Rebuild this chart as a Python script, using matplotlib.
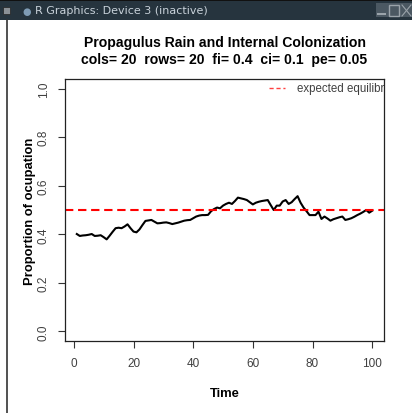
import numpy as np
import matplotlib
matplotlib.use("Agg")
import matplotlib.pyplot as plt
from matplotlib.patches import Rectangle
from matplotlib.lines import Line2D

plt.rcParams['font.family'] = ['Liberation Sans', 'DejaVu Sans']
plt.rcParams['lines.scale_dashes'] = False

# ---- data ----
time = list(range(1, 101))
occupation = [
    0.401, 0.393, 0.395, 0.396, 0.398, 0.401, 0.393, 0.394, 0.396, 0.388,
    0.379, 0.394, 0.410, 0.425, 0.427, 0.425, 0.432, 0.441, 0.425, 0.411,
    0.408, 0.420, 0.438, 0.455, 0.457, 0.459, 0.452, 0.445, 0.446, 0.448,
    0.449, 0.446, 0.442, 0.445, 0.448, 0.452, 0.456, 0.458, 0.459, 0.466,
    0.473, 0.477, 0.479, 0.479, 0.480, 0.495, 0.504, 0.510, 0.507, 0.518,
    0.525, 0.530, 0.525, 0.537, 0.551, 0.548, 0.545, 0.541, 0.532, 0.523,
    0.530, 0.534, 0.537, 0.539, 0.541, 0.520, 0.500, 0.518, 0.518, 0.535,
    0.541, 0.525, 0.532, 0.545, 0.557, 0.530, 0.510, 0.495, 0.479, 0.479,
    0.479, 0.493, 0.463, 0.473, 0.465, 0.456, 0.462, 0.466, 0.470, 0.473,
    0.459, 0.462, 0.466, 0.472, 0.479, 0.485, 0.492, 0.500, 0.489, 0.497,
]
equilibrium = 0.5
x_ticks = [0, 20, 40, 60, 80, 100]
y_ticks = [0.0, 0.2, 0.4, 0.6, 0.8, 1.0]
y_ticklabels = ["0.0", "0.2", "0.4", "0.6", "0.8", "1.0"]
title1 = "Propagulus Rain and Internal Colonization"
title2 = "cols= 20  rows= 20  fi= 0.4  ci= 0.1  pe= 0.05"
legend_label = "expected equilibrium"

W, H = 412, 414
fig = plt.figure(figsize=(W / 100, H / 100), dpi=100)
fig.patch.set_facecolor('white')

def fx(px):
    return px / W

def fy(py):
    return 1 - py / H

# ---- window chrome ----
fig.add_artist(Rectangle((0, fy(21)), 1, 21 / H, transform=fig.transFigure,
                         facecolor='#26343e', edgecolor='none'))
fig.add_artist(Rectangle((0, fy(2)), 1, 2 / H, transform=fig.transFigure,
                         facecolor='#111111', edgecolor='none'))
fig.add_artist(Rectangle((fx(3), fy(15)), 7 / W, 7 / H, transform=fig.transFigure,
                         facecolor='#8a9096', edgecolor='#222222', lw=0.5))
fig.text(fx(22), fy(11.5), "\u25CF", color='#7f9cb5', fontsize=7,
         va='center', ha='left', family='DejaVu Sans')
fig.text(fx(35), fy(11.5), "R Graphics: Device 3 (inactive)", color='#c9d2da',
         fontsize=8, va='center', ha='left', family='DejaVu Sans')
fig.add_artist(Rectangle((fx(376), fy(18)), 36 / W, 14 / H, transform=fig.transFigure,
                         facecolor='#4b5862', edgecolor='none'))
fig.add_artist(Rectangle((fx(377), fy(16)), 9 / W, 2 / H, transform=fig.transFigure,
                         facecolor='#9aa3aa', edgecolor='none'))
fig.add_artist(Rectangle((fx(389), fy(17)), 10 / W, 11 / H, transform=fig.transFigure,
                         facecolor='none', edgecolor='#9aa3aa', lw=1))
fig.add_artist(Line2D([fx(402), fx(411)], [fy(6), fy(17)], transform=fig.transFigure,
                      color='#9aa3aa', lw=0.8))
fig.add_artist(Line2D([fx(402), fx(411)], [fy(17), fy(6)], transform=fig.transFigure,
                      color='#9aa3aa', lw=0.8))
fig.add_artist(Line2D([fx(7), fx(7)], [0, fy(21)], transform=fig.transFigure,
                      color='#333333', lw=1.2))

# ---- axes ----
left, right, top, bottom = 65, 384, 80, 342
ax = fig.add_axes([fx(left), fy(bottom), (right - left) / W, (bottom - top) / H])
ax.set_facecolor('white')

ax.plot(time, occupation, color='black', lw=1.5, solid_joinstyle='round')
ax.axhline(equilibrium, color='#ff0000', lw=1.5, linestyle=(0, (6, 3.4)))

span = time[-1] - time[0]
ax.set_xlim(time[0] - 0.04 * span, time[-1] + 0.04 * span)
ax.set_ylim(-0.04, 1.04)

ax.set_xticks(x_ticks)
ax.set_xticklabels([str(v) for v in x_ticks])
ax.set_yticks(y_ticks)
ax.set_yticklabels(y_ticklabels, rotation=90, va='center')

for s in ax.spines.values():
    s.set_color('#222222')
    s.set_linewidth(0.9)
ax.tick_params(axis='both', direction='out', length=5, width=0.8,
               color='#333333', labelcolor='#404040', labelsize=8.5)
ax.tick_params(axis='x', pad=6.5)
ax.tick_params(axis='y', pad=6)

ax.set_xlabel("Time", fontweight='bold', fontsize=9.4, labelpad=13)
ax.set_ylabel("Proportion of ocupation", fontweight='bold', fontsize=9.4, labelpad=1)

# legend (clipped at plot region like the reference)
ax.plot([0.64, 0.69], [0.965, 0.965], transform=ax.transAxes, color='#ff4040',
        lw=1.0, linestyle=(0, (3, 2)), clip_on=False)
ax.text(0.728, 0.965, legend_label, transform=ax.transAxes, fontsize=8.3,
        color='#404040', va='center', ha='left', clip_on=True)

fig.text(fx((left + right) / 2), fy(43), title1, fontweight='bold', fontsize=10.1,
         ha='center', va='center')
fig.text(fx((left + right) / 2), fy(60), title2, fontweight='bold', fontsize=10.1,
         ha='center', va='center')

fig.savefig("out.png", dpi=100, facecolor='white')
